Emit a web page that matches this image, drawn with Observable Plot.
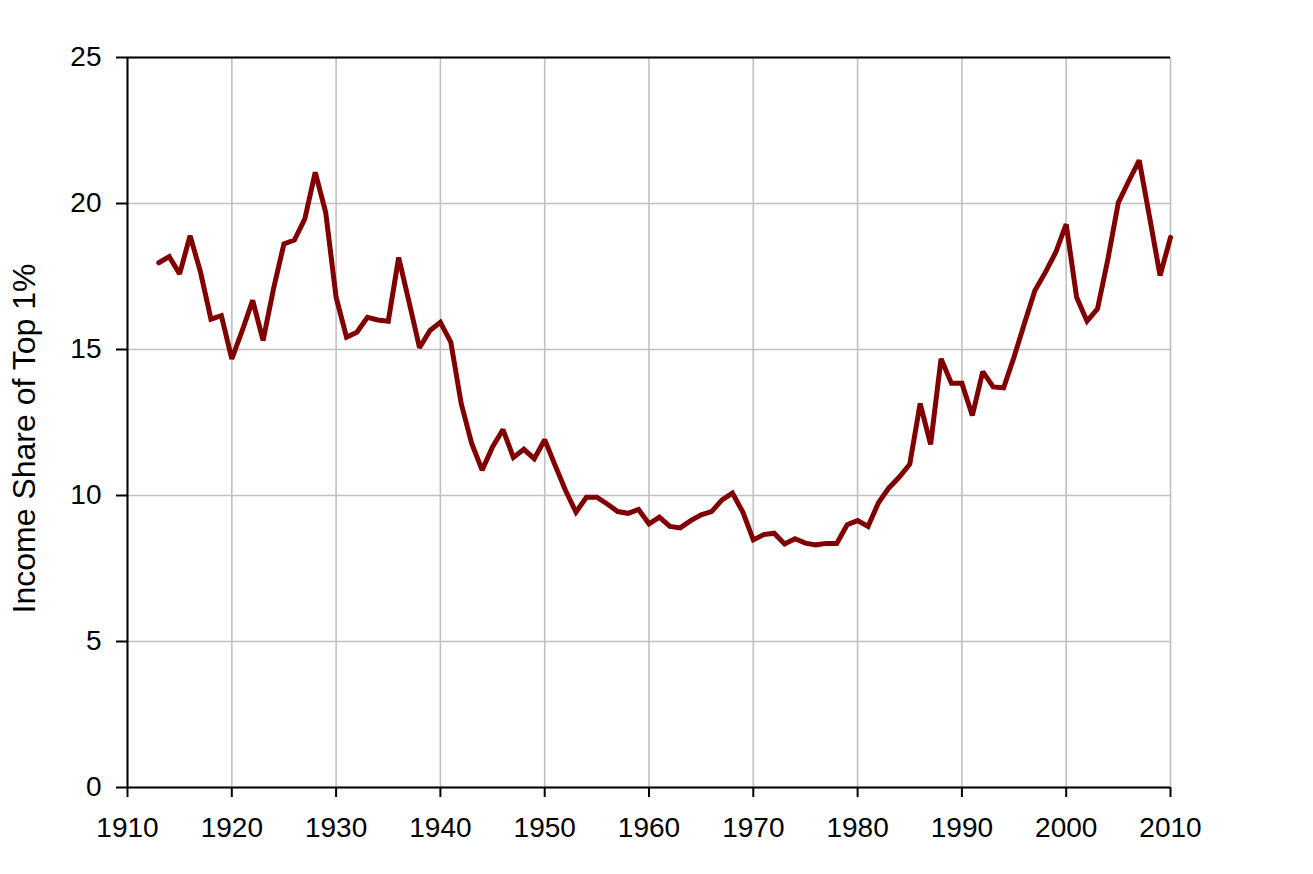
<!DOCTYPE html>
<html>
<head>
<meta charset="utf-8">
<script src="https://cdn.jsdelivr.net/npm/d3@7"></script>
<script src="https://cdn.jsdelivr.net/npm/@observablehq/plot@0.6"></script>
<style>
  html, body { margin: 0; padding: 0; background: #fff; }
  #chart svg { display: block; }
</style>
</head>
<body>
<div id="chart"></div>
<script>
const years = [
  1913, 1914, 1915, 1916, 1917, 1918, 1919, 1920, 1921, 1922,
  1923, 1924, 1925, 1926, 1927, 1928, 1929, 1930, 1931, 1932,
  1933, 1934, 1935, 1936, 1937, 1938, 1939, 1940, 1941, 1942,
  1943, 1944, 1945, 1946, 1947, 1948, 1949, 1950, 1951, 1952,
  1953, 1954, 1955, 1956, 1957, 1958, 1959, 1960, 1961, 1962,
  1963, 1964, 1965, 1966, 1967, 1968, 1969, 1970, 1971, 1972,
  1973, 1974, 1975, 1976, 1977, 1978, 1979, 1980, 1981, 1982,
  1983, 1984, 1985, 1986, 1987, 1988, 1989, 1990, 1991, 1992,
  1993, 1994, 1995, 1996, 1997, 1998, 1999, 2000, 2001, 2002,
  2003, 2004, 2005, 2006, 2007, 2008, 2009, 2010
];
const top1Share = [
  17.97, 18.18, 17.59, 18.90, 17.65, 16.04, 16.16, 14.68, 15.65, 16.68,
  15.31, 17.08, 18.62, 18.75, 19.47, 21.07, 19.70, 16.79, 15.42, 15.59,
  16.10, 16.01, 15.97, 18.15, 16.62, 15.06, 15.65, 15.93, 15.25, 13.14,
  11.78, 10.87, 11.66, 12.26, 11.30, 11.58, 11.26, 11.91, 11.03, 10.17,
  9.43, 9.94, 9.94, 9.71, 9.45, 9.39, 9.52, 9.03, 9.26, 8.94,
  8.89, 9.14, 9.34, 9.45, 9.85, 10.08, 9.43, 8.48, 8.66, 8.71,
  8.34, 8.52, 8.37, 8.31, 8.36, 8.36, 9.00, 9.14, 8.94, 9.75,
  10.26, 10.63, 11.07, 13.15, 11.75, 14.68, 13.84, 13.84, 12.74, 14.24,
  13.72, 13.69, 14.74, 15.90, 17.02, 17.64, 18.33, 19.29, 16.79, 15.97,
  16.39, 18.10, 20.03, 20.77, 21.48, 19.52, 17.53, 18.84
];
const xTicks = [1910, 1920, 1930, 1940, 1950, 1960, 1970, 1980, 1990, 2000, 2010];
const yTicks = [0, 5, 10, 15, 20, 25];
const yLabel = "Income Share of Top 1%";

const data = years.map((year, i) => ({year, value: top1Share[i]}));

const chart = Plot.plot({
  width: 1313,
  height: 874,
  marginLeft: 127,
  marginRight: 143,
  marginTop: 57,
  marginBottom: 87,
  style: {
    fontFamily: "'Liberation Sans', Arial, sans-serif",
    fontSize: "28px",
    color: "#000",
    background: "#fff"
  },
  x: {domain: [1910, 2010]},
  y: {domain: [0, 25]},
  marks: [
    Plot.gridX(xTicks, {stroke: "#c0c0c0", strokeOpacity: 1, strokeWidth: 1.6}),
    Plot.gridY(yTicks, {stroke: "#c0c0c0", strokeOpacity: 1, strokeWidth: 1.6}),
    Plot.ruleY([25], {stroke: "#000", strokeWidth: 2}),
    Plot.ruleX([1910], {stroke: "#000", strokeWidth: 2}),
    Plot.ruleY([0], {stroke: "#000", strokeWidth: 2}),
    Plot.axisX({
      ticks: xTicks,
      tickFormat: d => String(d),
      tickSize: 10,
      tickPadding: 20,
      strokeWidth: 2,
      stroke: "#000",
      fill: "#000",
      fontSize: 28,
      label: null
    }),
    Plot.axisY({
      ticks: yTicks,
      tickFormat: d => String(d),
      tickSize: 11,
      tickPadding: 15,
      strokeWidth: 2,
      stroke: "#000",
      fill: "#000",
      fontSize: 28,
      label: null
    }),
    Plot.text([yLabel], {
      frameAnchor: "left",
      rotate: -90,
      dx: -103,
      dy: 16,
      fontSize: 32,
      fill: "#000",
      textAnchor: "middle"
    }),
    Plot.line(data, {
      x: "year",
      y: "value",
      stroke: "#800000",
      strokeWidth: 5,
      strokeLinejoin: "miter",
      strokeMiterlimit: 2
    })
  ]
});

document.getElementById("chart").appendChild(chart);
</script>
</body>
</html>
